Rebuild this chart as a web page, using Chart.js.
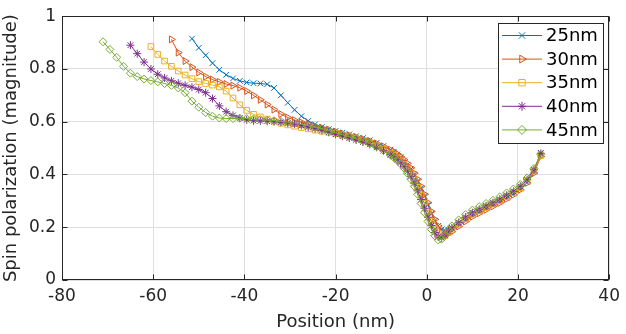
<!DOCTYPE html>
<html>
<head>
<meta charset="utf-8">
<script src="https://cdn.jsdelivr.net/npm/chart.js@4/dist/chart.umd.min.js"></script>
<style>
  html, body { margin: 0; padding: 0; background: #fff; }
  #wrap { width: 626px; height: 334px; }
</style>
</head>
<body>
<div id="wrap"><canvas id="c" width="626" height="334"></canvas></div>
<script>
// shared position grid (nm); each series uses the last N positions
const positions = [-71, -69.5, -68, -66.5, -65, -63.5, -62, -60.5, -59, -57.5, -56, -54.5, -53, -51.5, -50, -48.5,
  -47, -45.5, -44, -42.5, -41, -39.5, -38, -36.5, -35, -33.5, -32, -30.5, -29, -27.5, -26, -24.5, -23, -21.5,
  -20, -18.5, -17, -15.5, -14, -12.5, -11, -9.5,
  -8, -7.25, -6.5, -5.75, -5, -4.25, -3.5, -2.75, -2, -1.25, -0.5, 0.25, 1, 1.75, 2.5, 3.25, 4, 4.75, 5.5,
  7, 8.5, 10, 11.5, 13, 14.5, 16, 17.5, 19, 20.5, 22, 23.5, 25];

const seriesNames = ['25nm', '30nm', '35nm', '40nm', '45nm'];

const pol25 = [0.915, 0.880, 0.852, 0.822, 0.797, 0.778, 0.764, 0.755, 0.749, 0.746, 0.745, 0.742, 0.728, 0.700,
  0.672, 0.645, 0.621, 0.603, 0.590, 0.580, 0.572, 0.565, 0.558, 0.552, 0.545, 0.538, 0.530, 0.520, 0.508,
  0.494, 0.486, 0.476, 0.466, 0.453, 0.437, 0.420, 0.400, 0.375, 0.348, 0.318, 0.285, 0.252, 0.225, 0.205, 0.192,
  0.188, 0.190, 0.197,
  0.212, 0.230, 0.246, 0.259, 0.272, 0.285, 0.298, 0.312, 0.328, 0.347, 0.372, 0.412, 0.482];

const pol30 = [0.912, 0.862, 0.830, 0.807, 0.787, 0.771, 0.760, 0.751, 0.743, 0.737, 0.729, 0.716, 0.700, 0.683,
  0.665, 0.646, 0.629, 0.616, 0.606, 0.598, 0.591, 0.584, 0.577, 0.570, 0.563, 0.556, 0.549, 0.542, 0.535, 0.527,
  0.518, 0.507,
  0.494, 0.487, 0.478, 0.468, 0.456, 0.442, 0.425, 0.405, 0.382, 0.355, 0.325, 0.293, 0.260, 0.230, 0.205, 0.185,
  0.172, 0.175, 0.183,
  0.203, 0.222, 0.240, 0.253, 0.266, 0.279, 0.292, 0.307, 0.323, 0.342, 0.368, 0.405, 0.468];

const pol35 = [0.885, 0.855, 0.830, 0.810, 0.792, 0.777, 0.763, 0.752, 0.745, 0.739, 0.732, 0.716, 0.690, 0.664,
  0.643, 0.628, 0.618, 0.610, 0.602, 0.594, 0.588, 0.583, 0.578, 0.573, 0.568, 0.564, 0.560, 0.555, 0.549, 0.543,
  0.536, 0.528, 0.519, 0.508, 0.496,
  0.481, 0.473, 0.463, 0.452, 0.438, 0.422, 0.403, 0.380, 0.352, 0.322, 0.290, 0.255, 0.222, 0.195, 0.176, 0.166,
  0.168, 0.180, 0.192,
  0.212, 0.232, 0.249, 0.262, 0.275, 0.288, 0.301, 0.316, 0.331, 0.350, 0.376, 0.414, 0.472];

const pol40 = [0.890, 0.858, 0.826, 0.800, 0.780, 0.766, 0.755, 0.746, 0.738, 0.731, 0.722, 0.710, 0.688, 0.660,
  0.638, 0.624, 0.614, 0.607, 0.604, 0.603, 0.602, 0.600, 0.598, 0.595, 0.591, 0.586, 0.580, 0.574, 0.567, 0.560,
  0.552, 0.545, 0.538, 0.531, 0.523, 0.514, 0.503, 0.490,
  0.475, 0.467, 0.456, 0.444, 0.430, 0.412, 0.392, 0.367, 0.338, 0.305, 0.272, 0.238, 0.206, 0.180, 0.163, 0.160,
  0.170, 0.185, 0.198,
  0.218, 0.238, 0.255, 0.268, 0.281, 0.293, 0.306, 0.321, 0.336, 0.355, 0.380, 0.418, 0.480];

const pol45 = [0.903, 0.874, 0.844, 0.810, 0.784, 0.771, 0.762, 0.756, 0.751, 0.745, 0.738, 0.728, 0.710, 0.678,
  0.655, 0.635, 0.621, 0.614, 0.612, 0.612, 0.613, 0.612, 0.610, 0.608, 0.606, 0.604, 0.601, 0.598, 0.594, 0.590,
  0.585, 0.579, 0.573, 0.566, 0.558, 0.551, 0.543, 0.535, 0.527, 0.517, 0.505, 0.491,
  0.474, 0.465, 0.453, 0.440, 0.424, 0.405, 0.382, 0.355, 0.325, 0.290, 0.255, 0.222, 0.192, 0.168, 0.152, 0.155,
  0.170, 0.190, 0.205,
  0.228, 0.248, 0.265, 0.278, 0.290, 0.302, 0.315, 0.330, 0.345, 0.362, 0.387, 0.423, 0.476];

const xTicks = [-80, -60, -40, -20, 0, 20, 40];
const yTicks = [0, 0.2, 0.4, 0.6, 0.8, 1];

const colors = ['#0072BD', '#D95319', '#EDB120', '#7E2F8E', '#77AC30'];
const markers = [
  { style: 'crossRot', rotation: 0 },
  { style: 'triangle', rotation: 90 },
  { style: 'rect', rotation: 0 },
  { style: 'star', rotation: 0 },
  { style: 'rectRot', rotation: 0 }
];
const allValues = [pol25, pol30, pol35, pol40, pol45];

function toPoints(values) {
  const xs = positions.slice(positions.length - values.length);
  return values.map((v, i) => ({ x: xs[i], y: v }));
}

const AXIS_COLOR = '#262626';

// MATLAB-like box, inward ticks and framed legend
const matlabAxes = {
  id: 'matlabAxes',
  afterDraw(chart) {
    const { ctx, chartArea: a, scales } = chart;
    const L = Math.round(a.left) + 0.5, R = Math.round(a.right) - 0.5;
    const T = Math.round(a.top) + 0.5, B = Math.round(a.bottom) - 0.5;
    const tl = 5;
    ctx.save();
    ctx.strokeStyle = AXIS_COLOR;
    ctx.lineWidth = 1;
    ctx.beginPath();
    xTicks.forEach(v => {
      const px = Math.round(scales.x.getPixelForValue(v)) + 0.5;
      ctx.moveTo(px, B); ctx.lineTo(px, B - tl);
      ctx.moveTo(px, T); ctx.lineTo(px, T + tl);
    });
    yTicks.forEach(v => {
      const py = Math.round(scales.y.getPixelForValue(v)) + 0.5;
      ctx.moveTo(L, py); ctx.lineTo(L + tl, py);
      ctx.moveTo(R, py); ctx.lineTo(R - tl, py);
    });
    ctx.stroke();
    ctx.strokeRect(L, T, R - L, B - T);

    // legend
    const bx = 498.5, by = 23.5, bw = 105, bh = 120;
    ctx.fillStyle = '#fff';
    ctx.fillRect(bx, by, bw, bh);
    ctx.strokeStyle = AXIS_COLOR;
    ctx.strokeRect(bx, by, bw, bh);
    ctx.font = '18px "DejaVu Sans"';
    ctx.textBaseline = 'middle';
    ctx.textAlign = 'left';
    seriesNames.forEach((name, i) => {
      const y = 35.5 + i * 23.6;
      ctx.strokeStyle = colors[i];
      ctx.lineWidth = 1;
      ctx.beginPath();
      ctx.moveTo(502, y); ctx.lineTo(542, y);
      ctx.stroke();
      ctx.fillStyle = 'rgba(0,0,0,0)';
      if (Chart.helpers && Chart.helpers.drawPoint) {
        Chart.helpers.drawPoint(ctx, {
          pointStyle: markers[i].style, rotation: markers[i].rotation, radius: 4.5, borderWidth: 1
        }, 522, y);
      }
      ctx.fillStyle = '#000';
      ctx.fillText(name, 546, y + 1);
    });
    ctx.restore();
  }
};

const datasets = seriesNames.map((name, i) => ({
  label: name,
  data: toPoints(allValues[i]),
  borderColor: colors[i],
  backgroundColor: colors[i],
  borderWidth: 1,
  pointStyle: markers[i].style,
  rotation: markers[i].rotation,
  pointRadius: 4,
  pointBorderWidth: 1,
  pointBorderColor: colors[i],
  pointBackgroundColor: 'rgba(0,0,0,0)',
  tension: 0,
  fill: false,
  order: seriesNames.length - 1 - i
}));

new Chart(document.getElementById('c'), {
  type: 'line',
  data: { datasets },
  options: {
    responsive: false,
    animation: false,
    devicePixelRatio: 1,
    layout: { padding: { top: 11, right: 12, left: 0, bottom: 0 } },
    plugins: {
      legend: { display: false },
      tooltip: { enabled: false }
    },
    scales: {
      x: {
        type: 'linear',
        min: -80, max: 40,
        afterBuildTicks: s => { s.ticks = xTicks.map(v => ({ value: v })); },
        afterFit: s => { s.height = 54; },
        ticks: { font: { family: 'DejaVu Sans', size: 17 }, color: AXIS_COLOR, padding: 6, maxRotation: 0 },
        grid: { color: '#dfdfdf', lineWidth: 1, drawTicks: false },
        border: { display: false },
        title: {
          display: true, text: 'Position (nm)', color: AXIS_COLOR,
          font: { family: 'DejaVu Sans', size: 18 }, padding: { top: 0, bottom: 1 }
        }
      },
      y: {
        type: 'linear',
        min: 0, max: 1,
        afterBuildTicks: s => { s.ticks = yTicks.map(v => ({ value: v })); },
        afterFit: s => { s.width = 62; },
        ticks: {
          font: { family: 'DejaVu Sans', size: 17 }, color: AXIS_COLOR, padding: 6,
          callback: v => String(Math.round(v * 10) / 10)
        },
        grid: { color: '#dfdfdf', lineWidth: 1, drawTicks: false },
        border: { display: false },
        title: {
          display: true, text: 'Spin polarization (magnitude)', color: AXIS_COLOR,
          font: { family: 'DejaVu Sans', size: 18 }, padding: { top: 1, bottom: 0 }
        }
      }
    }
  },
  plugins: [matlabAxes]
});
</script>
</body>
</html>
